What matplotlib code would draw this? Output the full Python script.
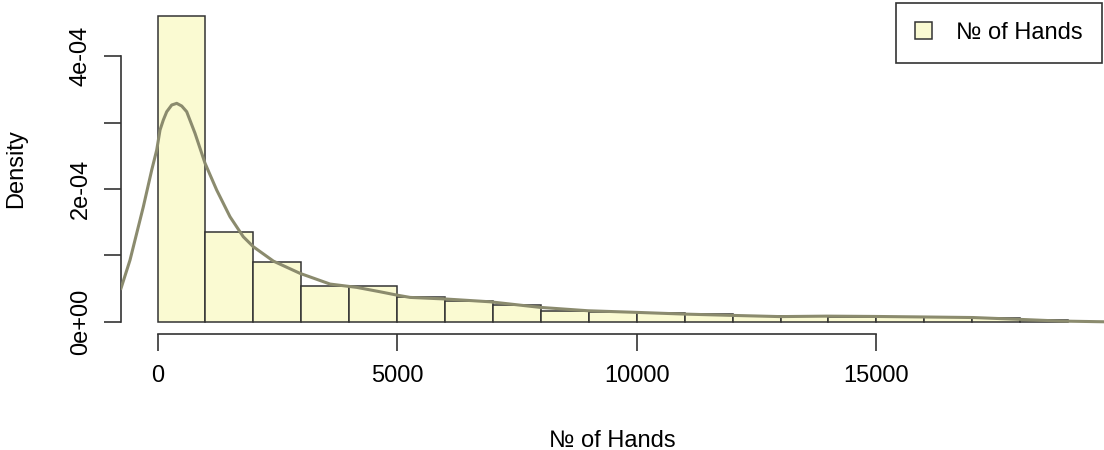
import matplotlib
matplotlib.use("Agg")
import matplotlib.pyplot as plt
import numpy as np

plt.rcParams['font.family'] = ['Liberation Sans', 'DejaVu Sans']

# histogram: bin edges and densities (units of 1e-4)
bin_edges = list(range(0, 20000, 1000))
bar_density = [4.61, 1.346, 0.895, 0.537, 0.537, 0.367, 0.316, 0.25, 0.166, 0.142,
               0.127, 0.111, 0.086, 0.09, 0.075, 0.075, 0.068, 0.06, 0.03]

# density curve (x, density in units of 1e-4)
curve_x = [-762, -574, -296, -121, -17, 52, 121, 192, 296, 401, 505, 609, 783, 992,
           1235, 1513, 1790, 1999, 2417, 2974, 3600, 4157, 4643, 4992, 5269, 6035,
           6939, 7982, 8984, 9985, 10987, 12003, 12990, 13964, 15008, 16052, 17018,
           18000, 18834, 19751]
curve_y = [0.503, 0.929, 1.732, 2.285, 2.586, 2.887, 3.038, 3.163, 3.264, 3.289,
           3.249, 3.163, 2.837, 2.386, 1.983, 1.581, 1.280, 1.130, 0.914, 0.729,
           0.568, 0.518, 0.452, 0.402, 0.367, 0.342, 0.301, 0.217, 0.166, 0.142,
           0.116, 0.096, 0.078, 0.085, 0.08, 0.072, 0.064, 0.036, 0.011, 0.0]

x_ticks = [0, 5000, 10000, 15000]
y_ticks = [0, 1e-4, 2e-4, 3e-4, 4e-4]
y_tick_labels = ['0e+00', '', '2e-04', '', '4e-04']

fill = '#FAFAD2'
edge = '#333333'
line_col = '#8B8B6E'

fig = plt.figure(figsize=(11.04, 4.5), dpi=100)
ax = fig.add_axes([121 / 1104, 116 / 450, 983 / 1104, 330.6 / 450])

scale = 1e-4
ax.bar(bin_edges[:-1], [h * scale for h in bar_density], width=1000, align='edge',
       color=fill, edgecolor=edge, linewidth=1.1, label='№ of Hands', zorder=2)
ax.plot(curve_x, [v * scale for v in curve_y], color=line_col, lw=2.2, zorder=3,
        solid_joinstyle='round')

ax.set_xlim(-762, 19750)
ax.set_ylim(-0.184e-4, 4.794e-4)

for s in ['top', 'right']:
    ax.spines[s].set_visible(False)
ax.spines['left'].set_bounds(0, 4e-4)
ax.spines['bottom'].set_bounds(0, 15000)
for s in ['left', 'bottom']:
    ax.spines[s].set_color(edge)
    ax.spines[s].set_linewidth(1.2)

ax.set_xticks(x_ticks)
ax.set_xticklabels([str(t) for t in x_ticks])
ax.set_yticks(y_ticks)
ax.set_yticklabels(y_tick_labels, rotation=90, va='center')
ax.tick_params(axis='both', direction='out', length=12, width=1.2, color=edge,
               labelsize=17)
ax.tick_params(axis='x', pad=10)
ax.tick_params(axis='y', pad=9)

ax.set_xlabel('№ of Hands', fontsize=17)
ax.xaxis.set_label_coords(0.5, -(441 - 334) / 330.6)
ax.xaxis.label.set_va('center')
ax.set_ylabel('Density', fontsize=17)
ax.yaxis.set_label_coords(-(121 - 16) / 983, 0.5)
ax.yaxis.label.set_va('center')

leg = ax.legend(loc='upper right', bbox_to_anchor=(1102 / 1104, 1 - 3 / 450),
                bbox_transform=fig.transFigure, fontsize=17, fancybox=False,
                framealpha=1, edgecolor=edge, handlelength=0.72, handleheight=0.72,
                handletextpad=1.05, borderpad=0.8, borderaxespad=0)
leg.get_frame().set_linewidth(1.2)

fig.savefig('out.png', dpi=100)
